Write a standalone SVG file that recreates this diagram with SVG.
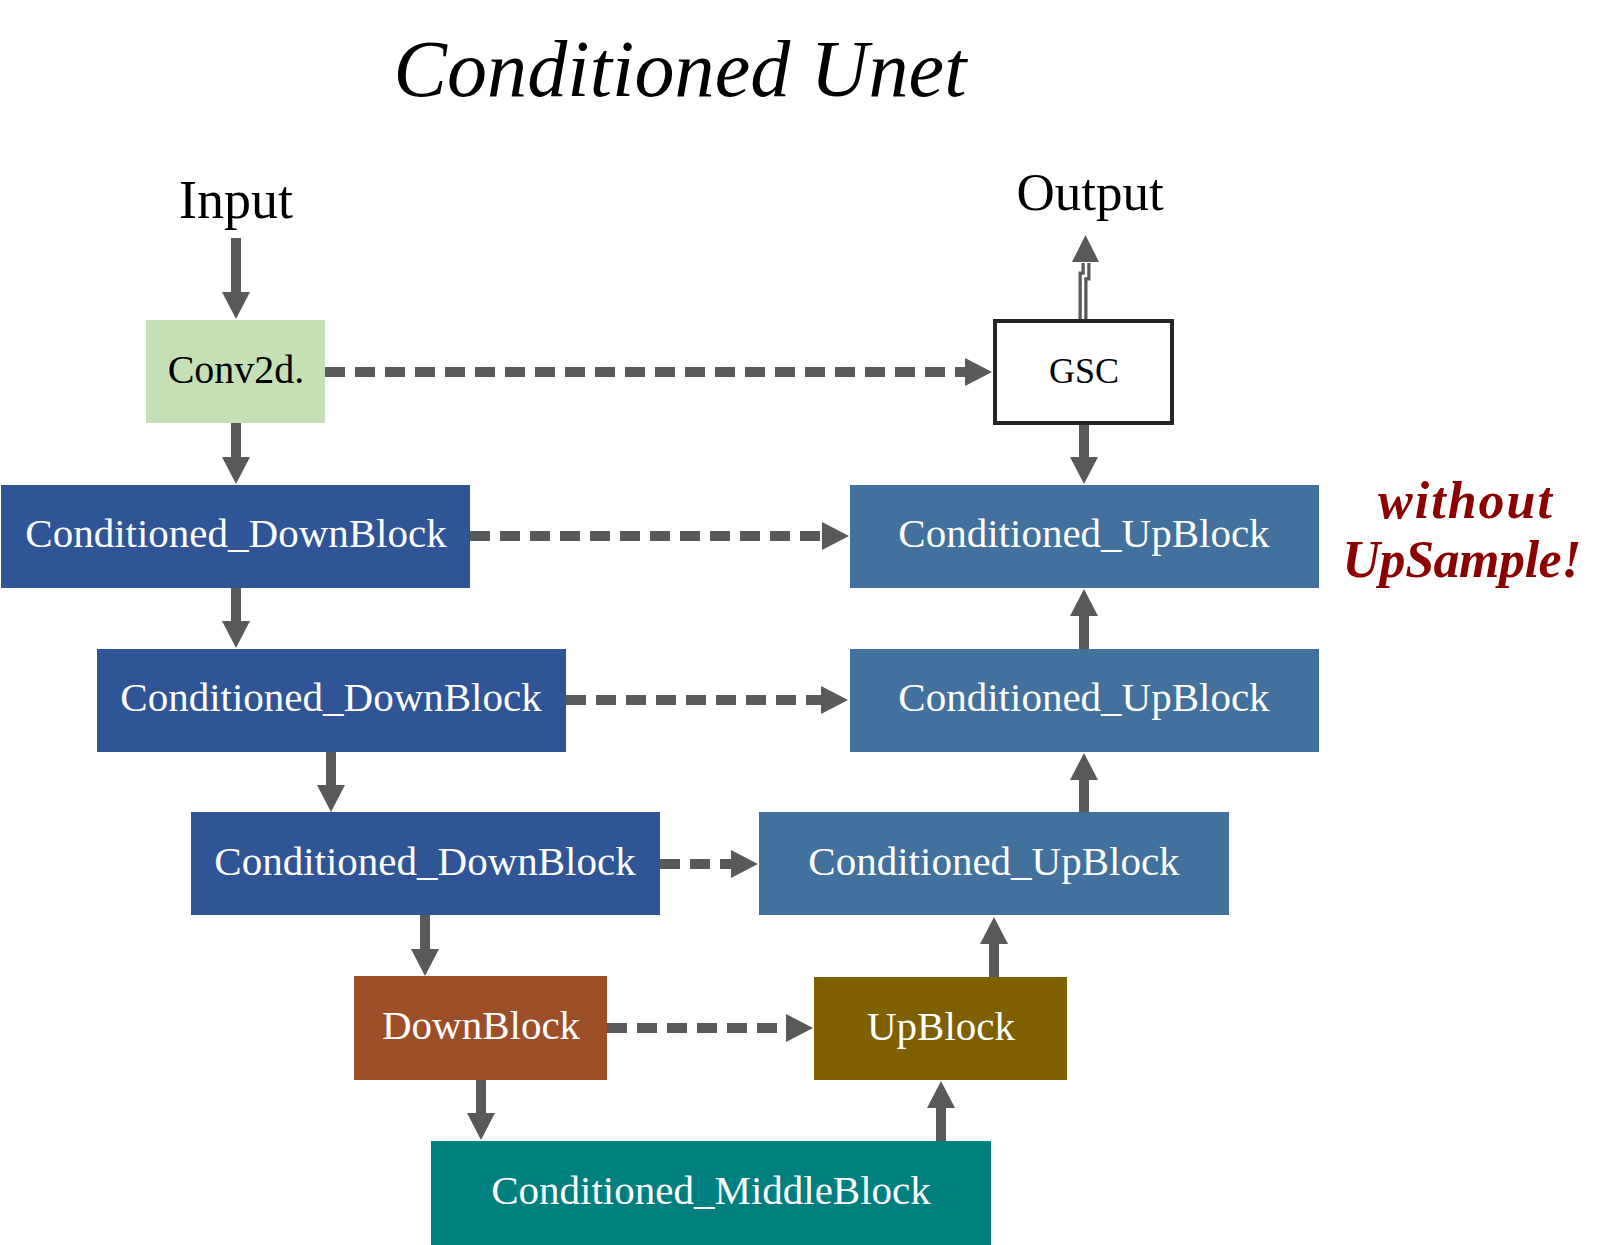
<svg xmlns="http://www.w3.org/2000/svg" width="1611" height="1245" viewBox="0 0 1611 1245">
<defs>
<marker id="ah" viewBox="0 0 27 28" refX="1" refY="14" markerWidth="27" markerHeight="28" markerUnits="userSpaceOnUse" orient="auto">
<path d="M0,0 L27,14 L0,28 Z" fill="#595959"/>
</marker>
</defs>
<style>
.lbl{font-family:"Liberation Serif","Times New Roman",serif;font-size:41px;fill:#ffffff;text-anchor:middle}
.dark{fill:#000000}
.solid{stroke:#595959;stroke-width:10;fill:none;marker-end:url(#ah)}
.dash{stroke:#595959;stroke-width:10;fill:none;stroke-dasharray:20 10;marker-end:url(#ah)}
.db{fill:#2F5597}
.ub{fill:#41719C}
</style>
<rect width="1611" height="1245" fill="#ffffff"/>
<text x="680" y="96" font-family="'Liberation Serif','Times New Roman',serif" font-size="80" font-style="italic" text-anchor="middle" textLength="573" fill="#000">Conditioned Unet</text>
<text x="236" y="218" font-family="'Liberation Serif','Times New Roman',serif" font-size="54" text-anchor="middle" fill="#000">Input</text>
<text x="1090" y="210" font-family="'Liberation Serif','Times New Roman',serif" font-size="53" text-anchor="middle" fill="#000">Output</text>
<g id="note" fill="#8B0000" font-family="'Liberation Serif','Times New Roman',serif" font-size="52" font-style="italic" font-weight="bold" text-anchor="middle">
<text x="1465" y="518" textLength="174">without</text>
<text x="1462" y="577" textLength="239">UpSample!</text>
</g>
<g id="connectors">
<line class="solid" x1="236" y1="238" x2="236" y2="293"/>
<line class="solid" x1="236" y1="423" x2="236" y2="458"/>
<line class="solid" x1="236" y1="587" x2="236" y2="622"/>
<line class="solid" x1="331" y1="752" x2="331" y2="786"/>
<line class="solid" x1="425" y1="915" x2="425" y2="950"/>
<line class="solid" x1="481" y1="1080" x2="481" y2="1114"/>
<line class="solid" x1="941" y1="1146" x2="941" y2="1107"/>
<line class="solid" x1="994" y1="983" x2="994" y2="943"/>
<line class="solid" x1="1084" y1="812" x2="1084" y2="779"/>
<line class="solid" x1="1084" y1="649" x2="1084" y2="615"/>
<line class="solid" x1="1084" y1="425" x2="1084" y2="458"/>
<path d="M1083,319 L1083,276 L1086,276 L1086,263" stroke="#595959" stroke-width="9" fill="none"/>
<path d="M1083,319 L1083,276 L1086,276 L1086,262" stroke="#ffffff" stroke-width="2.5" fill="none"/>
<path d="M1072,262 L1085.5,235 L1099,262 Z" fill="#595959"/>
<line class="dash" x1="325" y1="372" x2="966" y2="372"/>
<line class="dash" x1="470" y1="536" x2="823" y2="536"/>
<line class="dash" x1="566" y1="700" x2="822" y2="700"/>
<line class="dash" x1="660" y1="864" x2="732" y2="864"/>
<line class="dash" x1="607" y1="1028" x2="787" y2="1028"/>
</g>
<g id="conv2d">
<rect x="146" y="320" width="179" height="103" fill="#C5E0B4"/>
<text class="lbl dark" x="236" y="383" style="font-size:40px">Conv2d.</text>
</g>
<g id="gsc">
<rect x="995" y="321" width="177" height="102" fill="#ffffff" stroke="#262626" stroke-width="4"/>
<text class="lbl dark" x="1084" y="383" style="font-size:36px">GSC</text>
</g>
<g id="down1">
<rect class="db" x="1" y="485" width="469" height="103"/>
<text class="lbl" x="236" y="547">Conditioned_DownBlock</text>
</g>
<g id="up1">
<rect class="ub" x="850" y="485" width="469" height="103"/>
<text class="lbl" x="1084" y="547">Conditioned_UpBlock</text>
</g>
<g id="down2">
<rect class="db" x="97" y="649" width="469" height="103"/>
<text class="lbl" x="331" y="711">Conditioned_DownBlock</text>
</g>
<g id="up2">
<rect class="ub" x="850" y="649" width="469" height="103"/>
<text class="lbl" x="1084" y="711">Conditioned_UpBlock</text>
</g>
<g id="down3">
<rect class="db" x="191" y="812" width="469" height="103"/>
<text class="lbl" x="425" y="875">Conditioned_DownBlock</text>
</g>
<g id="up3">
<rect class="ub" x="759" y="812" width="470" height="103"/>
<text class="lbl" x="994" y="875">Conditioned_UpBlock</text>
</g>
<g id="downblock">
<rect x="354" y="976" width="253" height="104" fill="#9C4F28"/>
<text class="lbl" x="481" y="1039">DownBlock</text>
</g>
<g id="upblock">
<rect x="814" y="977" width="253" height="103" fill="#7F6000"/>
<text class="lbl" x="941" y="1040">UpBlock</text>
</g>
<g id="middle">
<rect x="431" y="1141" width="560" height="104" fill="#007F7F"/>
<text class="lbl" x="711" y="1204">Conditioned_MiddleBlock</text>
</g>
</svg>
